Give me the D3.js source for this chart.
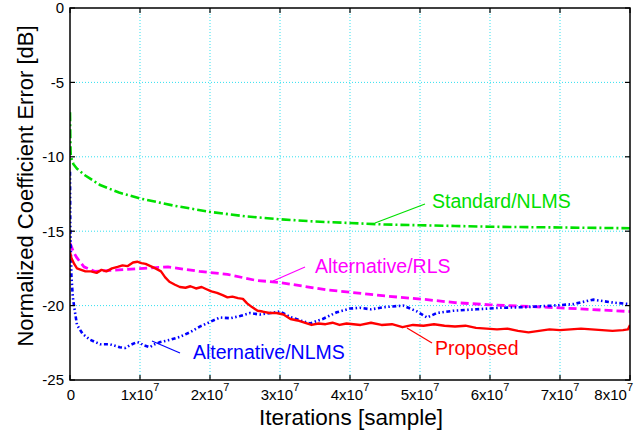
<!DOCTYPE html>
<html><head><meta charset="utf-8">
<script src="https://cdn.jsdelivr.net/npm/d3@7"></script>
<style>body{margin:0;background:#fff}svg{display:block;font-family:"Liberation Sans",Arial,sans-serif}</style>
</head><body><svg id="c" width="643" height="433"></svg>
<script>
// x values are in units of 1e7 iterations
const xTicks = [0,1,2,3,4,5,6,7,8];
const xTickLabels = ["0","1x10","2x10","3x10","4x10","5x10","6x10","7x10","8x10"];
const yTicks = [0,-5,-10,-15,-20,-25];
const yTickLabels = ["0","-5","-10","-15","-20","-25"];

const greenX = [0,0.004,0.008,0.012,0.05,0.1,0.2,0.3,0.43,0.7,1.0,1.5,2.0,2.5,3.0,3.5,4.0,4.5,5.0,5.5,6.0,7.0,8.0];
const greenY = [-7.0,-8.5,-9.6,-10.0,-10.5,-10.8,-11.2,-11.5,-11.9,-12.4,-12.8,-13.3,-13.7,-14.0,-14.2,-14.35,-14.45,-14.55,-14.6,-14.65,-14.7,-14.75,-14.8];

const magX = [0,0.05,0.1,0.2,0.35,0.7,1.05,1.4,1.85,2.25,2.65,3.0,3.67,4.0,4.5,5.1,5.5,6.0,7.0,8.0];
const magY = [-15.8,-16.4,-16.8,-17.4,-17.7,-17.6,-17.5,-17.4,-17.7,-17.9,-18.3,-18.45,-18.95,-19.1,-19.35,-19.6,-19.8,-19.95,-20.15,-20.4];

const redX = [0,0.02,0.06,0.1,0.16,0.22,0.3,0.38,0.45,0.52,0.6,0.68,0.75,0.82,0.9,0.96,1.02,1.08,1.15,1.22,1.3,1.36,1.42,1.5,1.57,1.65,1.72,1.8,1.88,1.95,2.02,2.1,2.18,2.25,2.32,2.4,2.47,2.53,2.6,2.68,2.75,2.85,2.95,3.05,3.15,3.25,3.35,3.45,3.55,3.65,3.75,3.85,3.95,4.05,4.15,4.3,4.45,4.6,4.75,4.9,5.05,5.2,5.35,5.5,5.65,5.8,5.95,6.1,6.25,6.4,6.55,6.7,6.85,7.0,7.15,7.3,7.45,7.6,7.75,7.9,7.97,8.0];
const redY = [-16.4,-16.8,-17.2,-17.5,-17.6,-17.7,-17.7,-17.8,-17.6,-17.7,-17.5,-17.4,-17.3,-17.35,-17.1,-17.05,-17.15,-17.2,-17.35,-17.5,-17.7,-18.1,-18.4,-18.6,-18.75,-18.8,-18.7,-18.85,-18.75,-18.9,-19.05,-19.15,-19.3,-19.45,-19.4,-19.5,-19.55,-19.85,-20.1,-20.35,-20.4,-20.5,-20.5,-20.6,-20.9,-21.0,-21.15,-21.3,-21.2,-21.25,-21.15,-21.3,-21.2,-21.25,-21.3,-21.15,-21.3,-21.25,-21.45,-21.3,-21.35,-21.25,-21.35,-21.4,-21.35,-21.5,-21.55,-21.6,-21.55,-21.7,-21.8,-21.7,-21.6,-21.65,-21.6,-21.55,-21.6,-21.65,-21.7,-21.65,-21.6,-21.3];

const blueX = [0,0.004,0.02,0.04,0.06,0.1,0.18,0.29,0.43,0.57,0.71,0.79,0.86,0.96,1.0,1.04,1.14,1.21,1.29,1.43,1.57,1.71,1.86,2.0,2.14,2.29,2.43,2.57,2.71,2.86,3.0,3.14,3.29,3.43,3.61,3.81,4.0,4.14,4.3,4.5,4.76,4.96,5.1,5.24,5.47,5.81,6.14,6.53,6.9,7.19,7.47,7.76,8.0];
const blueY = [-11.0,-14.5,-18.0,-19.4,-20.1,-21.3,-21.9,-22.3,-22.6,-22.6,-22.8,-22.85,-22.65,-22.45,-22.5,-22.65,-22.8,-22.6,-22.45,-22.3,-22.1,-21.8,-21.4,-21.1,-20.8,-20.85,-20.7,-20.5,-20.6,-20.5,-20.4,-20.75,-21.0,-21.2,-20.9,-20.45,-20.2,-20.15,-20.25,-20.1,-20.0,-20.4,-20.8,-20.5,-20.35,-20.25,-20.15,-20.1,-20.0,-19.9,-19.6,-19.8,-19.9];

const series = [
  {x: greenX, y: greenY, color: "#00e000", width: 2.6, dash: "9,3,2,3"},
  {x: magX, y: magY, color: "#ff00ff", width: 2.8, dash: "8,4"},
  {x: blueX, y: blueY, color: "#0000ff", width: 2.6, dash: "4,2.5,1.5,2.5,1.5,2.5"},
  {x: redX, y: redY, color: "#ff0000", width: 2.4, dash: null}
];

const annotations = [
  {text: "Standard/NLMS", color: "#00e000", tx: 432, ty: 208, line: [425,204,375,223]},
  {text: "Alternative/RLS", color: "#ff00ff", tx: 315, ty: 273, line: [305,267,273,281]},
  {text: "Alternative/NLMS", color: "#0000ff", tx: 193, ty: 359, line: [180,353,152,341]},
  {text: "Proposed", color: "#ff0000", tx: 435, ty: 355, line: [432,343,407,328]}
];

const L = 70, R = 630, T = 8, B = 380;
const x = d3.scaleLinear().domain([0, 8]).range([L, R]);
const y = d3.scaleLinear().domain([-25, 0]).range([B, T]);
const svg = d3.select("#c");

// grid
const grid = svg.append("g").attr("stroke", "#30e0f0").attr("stroke-width", 1).attr("stroke-dasharray", "1,2");
xTicks.slice(1, -1).forEach(t => grid.append("line").attr("x1", x(t)).attr("x2", x(t)).attr("y1", T).attr("y2", B));
yTicks.slice(1, -1).forEach(t => grid.append("line").attr("x1", L).attr("x2", R).attr("y1", y(t)).attr("y2", y(t)));

// curves
const line = d3.line().x(d => x(d[0])).y(d => y(d[1]));
svg.append("clipPath").attr("id", "cp").append("rect").attr("x", L).attr("y", T).attr("width", R - L).attr("height", B - T);
series.forEach(s => {
  const pts = s.x.map((v, i) => [v, s.y[i]]);
  svg.append("path").attr("d", line(pts)).attr("fill", "none").attr("stroke", s.color)
    .attr("stroke-width", s.width).attr("stroke-dasharray", s.dash).attr("stroke-linejoin", "round")
    .attr("clip-path", "url(#cp)");
});

// frame + ticks (inward, mirrored)
svg.append("rect").attr("x", L).attr("y", T).attr("width", R - L).attr("height", B - T)
  .attr("fill", "none").attr("stroke", "#000").attr("stroke-width", 1.5);
const tk = svg.append("g").attr("stroke", "#000").attr("stroke-width", 1.2);
xTicks.forEach(t => {
  tk.append("line").attr("x1", x(t)).attr("x2", x(t)).attr("y1", B).attr("y2", B - 5);
  tk.append("line").attr("x1", x(t)).attr("x2", x(t)).attr("y1", T).attr("y2", T + 5);
});
yTicks.forEach(t => {
  tk.append("line").attr("x1", L).attr("x2", L + 5).attr("y1", y(t)).attr("y2", y(t));
  tk.append("line").attr("x1", R).attr("x2", R - 5).attr("y1", y(t)).attr("y2", y(t));
});

// y tick labels
yTicks.forEach((t, i) => {
  svg.append("text").attr("x", L - 6).attr("y", y(t)).attr("dy", "0.36em").attr("text-anchor", "end")
    .attr("font-size", 15).attr("fill", "#000").text(yTickLabels[i]);
});
// x tick labels
xTicks.forEach((t, i) => {
  const g = svg.append("text").attr("y", 400).attr("font-size", 15).attr("fill", "#000");
  if (i === 0) { g.attr("x", x(t) + 1).attr("text-anchor", "middle").text(xTickLabels[i]); return; }
  const last = i === xTicks.length - 1;
  g.attr("x", last ? 633 : x(t)).attr("text-anchor", last ? "end" : "middle");
  g.append("tspan").text(xTickLabels[i]);
  g.append("tspan").attr("dy", -9).attr("font-size", 11).text("7");
});

// axis titles
svg.append("text").attr("x", 351).attr("y", 425).attr("text-anchor", "middle").attr("font-size", 22.5).attr("fill", "#000").text("Iterations [sample]");
svg.append("text").attr("transform", "translate(33,186) rotate(-90)").attr("text-anchor", "middle").attr("font-size", 22).attr("fill", "#000").text("Normalized Coefficient Error [dB]");

// annotations
annotations.forEach(a => {
  svg.append("line").attr("x1", a.line[0]).attr("y1", a.line[1]).attr("x2", a.line[2]).attr("y2", a.line[3])
    .attr("stroke", a.color).attr("stroke-width", 1.2);
  svg.append("text").attr("x", a.tx).attr("y", a.ty).attr("font-size", 19.5).attr("fill", a.color).text(a.text);
});
</script></body></html>
